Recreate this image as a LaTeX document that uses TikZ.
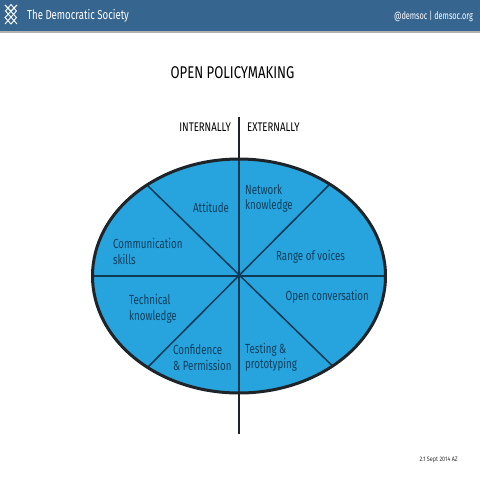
\documentclass[tikz,border=0pt]{standalone}
\usepackage{fontspec}
\setmainfont{Fira Sans}
\definecolor{barblue}{HTML}{36658F}
\definecolor{fillblue}{HTML}{27A3DD}
\definecolor{inkdark}{HTML}{1F2428}
\definecolor{labelblue}{HTML}{123F5C}
\tikzset{
  lbl/.style={font=\fontsize{13.2}{15.5}\selectfont,xscale=.74,transform shape,inner sep=0pt,text=labelblue,align=left},
  head/.style={font=\fontsize{#1}{#1}\selectfont,xscale=.77,transform shape,inner sep=0pt,text=black},
  bartext/.style={font=\fontsize{#1}{#1}\selectfont,transform shape,inner sep=0pt,text=white},
  spoke/.style={draw=labelblue!90!black,line width=1.5pt},
  logo/.style={draw=white,line width=.9pt}
}
\begin{document}
\begin{tikzpicture}[x=1pt,y=-1pt]
\useasboundingbox (0,0) rectangle (480,480);
\fill[barblue] (0,0) rectangle (480,31);
\fill[black!30] (0,31) rectangle (480,33);
% logo
\draw[logo] (5,5)--(16.5,17.5)--(11,24)--(5,17.5)--(17,5);
\draw[logo] (17,5)--(11,11);
\draw[logo] (5,5)--(11,11);
\draw[logo] (11,4.5)--(5.5,11)--(17,24);
\draw[logo] (11,4.5)--(16.5,11)--(5,24);
\node[bartext=13,anchor=west,xscale=.74] (brand) at (27,16) {The Democratic Society};
\node[bartext=10.5,anchor=east,xscale=.70] (contact) at (473,16.5) {@demsoc | demsoc.org};
\node[head=17,anchor=center] (title) at (232.5,73) {OPEN POLICYMAKING};
\node[head=12.5,anchor=east] (internally) at (231,127) {INTERNALLY};
\node[head=12.5,anchor=west] (externally) at (247,127) {EXTERNALLY};
% ellipse
\coordinate (c) at (239,276);
\fill[fillblue] (c) ellipse [x radius=146.5, y radius=117];
\coordinate (top) at (239,117);
\coordinate (bottom) at (239,434);
\coordinate (etop) at (239,159);
\coordinate (ebot) at (239,393);
\coordinate (left) at (92.5,276);
\coordinate (right) at (385.5,276);
\coordinate (a1) at (148,186);
\coordinate (a2) at (330,184);
\coordinate (a3) at (331.5,365);
\coordinate (a4) at (148,367);
\draw[spoke] (left)--(right);
\draw[spoke] (a1)--(a3);
\draw[spoke] (a2)--(a4);
\draw[inkdark,line width=2pt] (top)--(etop);
\draw[inkdark,line width=2pt] (ebot)--(bottom);
\draw[spoke,line width=1.8pt] (etop)--(ebot);
\draw[inkdark,line width=3pt] (c) ellipse [x radius=146.5, y radius=117];
\node[lbl,anchor=west] (att) at (193,207.5) {Attitude};
\node[lbl,anchor=west] (net) at (245,198.5) {Network\\knowledge};
\node[lbl,anchor=west] (com) at (113,251.5) {Communication\\skills};
\node[lbl,anchor=west] (ran) at (276,257) {Range of voices};
\node[lbl,anchor=west] (ope) at (285.5,296.5) {Open conversation};
\node[lbl,anchor=west] (tec) at (129,309) {Technical\\knowledge};
\node[lbl,anchor=west] (con) at (173,357.5) {Confidence\\\& Permission};
\node[lbl,anchor=west] (tes) at (245,357.5) {Testing \&\\prototyping};
\node[font=\fontsize{6.5}{6.5}\selectfont,xscale=.84,transform shape,inner sep=0pt,anchor=east,text=black!80] (date) at (458,460) {2.1 Sept 2014 AZ};
\end{tikzpicture}
\end{document}
